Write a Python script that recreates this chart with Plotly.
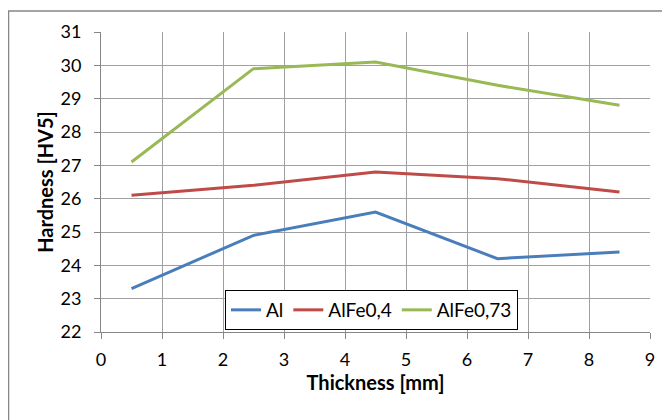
import plotly.graph_objects as go

thickness = [0.5, 2.5, 4.5, 6.5, 8.5]
al = [23.3, 24.9, 25.6, 24.2, 24.4]
alfe04 = [26.1, 26.4, 26.8, 26.6, 26.2]
alfe073 = [27.1, 29.9, 30.1, 29.4, 28.8]

series = [("Al", al, "#4A7EBB"), ("AlFe0,4", alfe04, "#BE4B48"), ("AlFe0,73", alfe073, "#98B954")]

fig = go.Figure()
for name, vals, col in series:
    fig.add_trace(go.Scatter(x=thickness, y=vals, mode="lines", name=name,
                             line=dict(color=col, width=3)))

# page offset from default body margin
OFF = 8
W, H = 670 - OFF, 420 - OFF
L, T = 101 - OFF, 32 - OFF
pw, ph = 549, 300
R, B = W - L - pw, H - T - ph

def px(x):
    return (x - OFF - L) / pw

def py(y):
    return (T + ph - (y - OFF)) / ph

fig.add_shape(type="rect", xref="paper", yref="paper",
              x0=px(8.5), x1=px(690), y0=py(440), y1=py(11),
              line=dict(color="#868686", width=1.5), fillcolor="rgba(0,0,0,0)", layer="below")

font = "Lato, 'Open Sans', sans-serif"
fig.update_layout(
    width=W, height=H,
    margin=dict(l=L, r=R, t=T, b=B),
    paper_bgcolor="white", plot_bgcolor="white",
    font=dict(family=font, size=18, color="#000000"),
    showlegend=True,
    legend=dict(orientation="h", x=px(371.5), y=py(290), xanchor="center", yanchor="top",
                bordercolor="#000000", borderwidth=1, bgcolor="white",
                font=dict(size=19, family=font), itemwidth=30, tracegroupgap=0),
    xaxis=dict(range=[0, 9], dtick=1, tick0=0, showgrid=True, gridcolor="#A0A0A0", gridwidth=1,
               showline=True, linecolor="#868686", linewidth=1, ticks="outside", ticklen=6,
               tickcolor="#868686", zeroline=False, mirror=False, automargin=False,
               ticklabelstandoff=5,
               title=dict(text="<b>Thickness [mm]</b>", font=dict(size=20), standoff=5)),
    yaxis=dict(range=[22, 31], dtick=1, showgrid=True, gridcolor="#A0A0A0", gridwidth=1,
               showline=True, linecolor="#868686", linewidth=1, ticks="outside", ticklen=6,
               tickcolor="#868686", zeroline=False, automargin=False,
               ticklabelstandoff=9,
               title=dict(text="<b>Hardness [HV5]</b>", font=dict(size=20), standoff=1)),
)

fig.write_html("out.html")
